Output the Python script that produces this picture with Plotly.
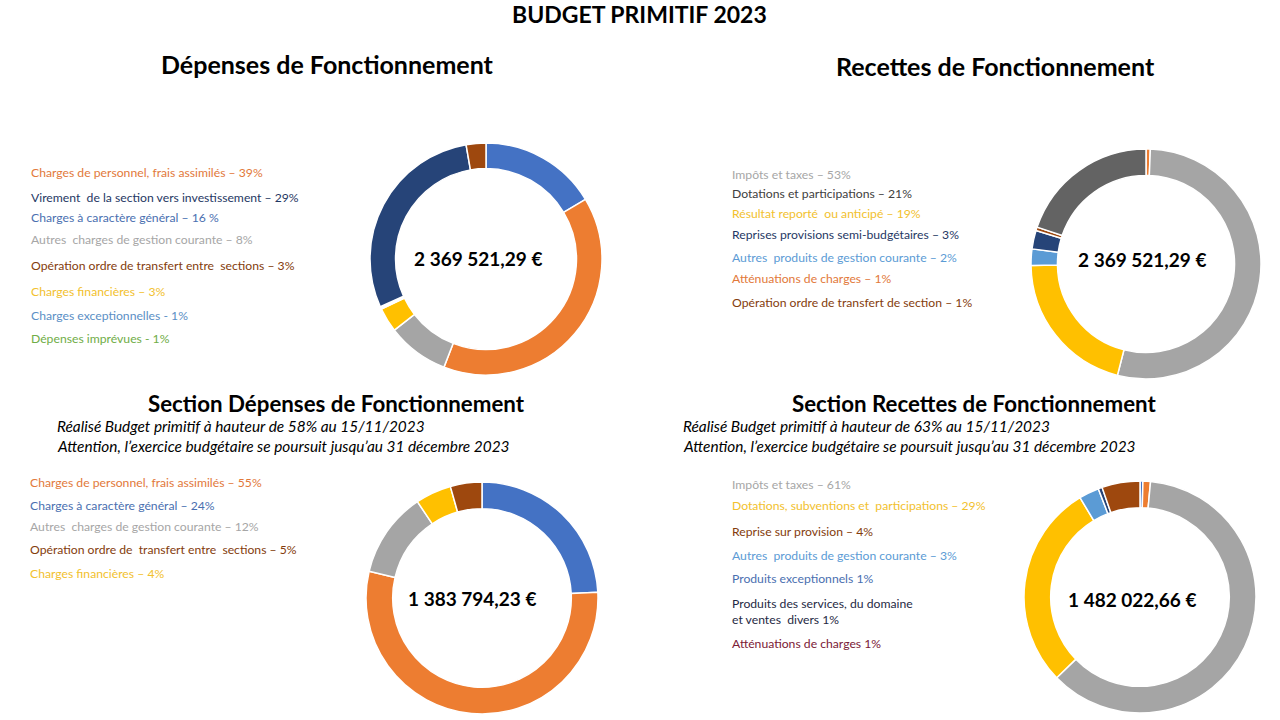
import plotly.graph_objects as go

W, H = 1280, 720
FONT = "Lato"
OFF = 0

# ---------------- DATA ----------------
# Chart 1: Dépenses de Fonctionnement (slice order, clockwise from 12 o'clock)
dep_labels = ["Charges à caractère général", "Charges de personnel, frais assimilés",
              "Autres charges de gestion courante", "Charges financières",
              "Charges exceptionnelles", "Dépenses imprévues",
              "Virement de la section vers investissement",
              "Opération ordre de transfert entre sections"]
dep_values = [16.4, 39.5, 8.6, 3.4, 0.2, 0.15, 29.0, 2.75]
dep_colors = ["#4472C4", "#ED7D31", "#A5A5A5", "#FFC000", "#5B9BD5", "#70AD47", "#264478", "#9E480E"]
dep_total = "2 369 521,29 €"
dep_legend = ["Charges de personnel, frais assimilés – 39%",
              "Virement  de la section vers investissement – 29%",
              "Charges à caractère général – 16 %",
              "Autres  charges de gestion courante – 8%",
              "Opération ordre de transfert entre  sections – 3%",
              "Charges financières – 3%",
              "Charges exceptionnelles - 1%",
              "Dépenses imprévues - 1%"]
dep_legend_colors = ["#E2793A", "#1F3864", "#4A6FB0", "#A6A6A6", "#843C0C", "#F2C12E", "#5B8FC5", "#70AD47"]

# Chart 2: Recettes de Fonctionnement
rec_labels = ["Atténuations de charges", "Impôts et taxes", "Résultat reporté ou anticipé",
              "Autres produits de gestion courante", "Reprises provisions semi-budgétaires",
              "Opération ordre de transfert de section", "Dotations et participations"]
rec_values = [0.6, 53.4, 20.8, 2.3, 2.6, 0.5, 19.8]
rec_colors = ["#ED7D31", "#A5A5A5", "#FFC000", "#5B9BD5", "#264478", "#9E480E", "#636363"]
rec_total = "2 369 521,29 €"
rec_legend = ["Impôts et taxes – 53%",
              "Dotations et participations – 21%",
              "Résultat reporté  ou anticipé – 19%",
              "Reprises provisions semi-budgétaires – 3%",
              "Autres  produits de gestion courante – 2%",
              "Atténuations de charges – 1%",
              "Opération ordre de transfert de section – 1%"]
rec_legend_colors = ["#A6A6A6", "#404040", "#F2C12E", "#1F3864", "#5B9BD5", "#E2793A", "#843C0C"]

# Chart 3: Section Dépenses de Fonctionnement (réalisé)
sdep_labels = ["Charges à caractère général", "Charges de personnel, frais assimilés",
               "Autres charges de gestion courante", "Charges financières",
               "Opération ordre de transfert entre sections"]
sdep_values = [24.2, 54.5, 11.9, 5.0, 4.4]
sdep_colors = ["#4472C4", "#ED7D31", "#A5A5A5", "#FFC000", "#9E480E"]
sdep_total = "1 383 794,23 €"
sdep_note = ["Réalisé Budget primitif à hauteur de 58% au 15/11/2023",
             "Attention, l’exercice budgétaire se poursuit jusqu’au 31 décembre 2023"]
sdep_legend = ["Charges de personnel, frais assimilés – 55%",
               "Charges à caractère général – 24%",
               "Autres  charges de gestion courante – 12%",
               "Opération ordre de  transfert entre  sections – 5%",
               "Charges financières – 4%"]
sdep_legend_colors = ["#E2793A", "#4A6FB0", "#A6A6A6", "#843C0C", "#F2C12E"]

# Chart 4: Section Recettes de Fonctionnement (réalisé)
srec_labels = ["Produits exceptionnels", "Atténuations de charges", "Impôts et taxes",
               "Dotations, subventions et participations", "Autres produits de gestion courante",
               "Produits des services, du domaine et ventes divers", "Reprise sur provision"]
srec_values = [0.4, 1.05, 61.3, 28.6, 2.8, 0.55, 5.3]
srec_colors = ["#4472C4", "#ED7D31", "#A5A5A5", "#FFC000", "#5B9BD5", "#264478", "#9E480E"]
srec_total = "1 482 022,66 €"
srec_note = ["Réalisé Budget primitif à hauteur de 63% au 15/11/2023",
             "Attention, l’exercice budgétaire se poursuit jusqu’au 31 décembre 2023"]
srec_legend = ["Impôts et taxes – 61%",
               "Dotations, subventions et  participations – 29%",
               "Reprise sur provision – 4%",
               "Autres  produits de gestion courante – 3%",
               "Produits exceptionnels 1%",
               "Produits des services, du domaine<br>et ventes  divers 1%",
               "Atténuations de charges 1%"]
srec_legend_colors = ["#A6A6A6", "#F2C12E", "#843C0C", "#5B9BD5", "#4A6FB0", "#1F2A44", "#7B2036"]

main_title = "BUDGET PRIMITIF 2023"
titles = ["Dépenses de Fonctionnement", "Recettes de Fonctionnement",
          "Section Dépenses de Fonctionnement", "Section Recettes de Fonctionnement"]

# ---------------- LAYOUT HELPERS ----------------
def px_x(x):
    return (x - OFF) / W

def px_y(y):
    return 1 - (y - OFF) / H

fig = go.Figure()

def add_donut(labels, values, colors, cx, cy, r, hole):
    fig.add_trace(go.Pie(
        labels=labels, values=values, sort=False, direction="clockwise", rotation=0,
        hole=hole, textinfo="none", hoverinfo="label+percent",
        marker=dict(colors=colors, line=dict(color="white", width=1.5)),
        domain=dict(x=[px_x(cx - r), px_x(cx + r)], y=[px_y(cy + r), px_y(cy - r)]),
        showlegend=False,
    ))

add_donut(dep_labels, dep_values, dep_colors, 486, 259, 116, 0.78)
add_donut(rec_labels, rec_values, rec_colors, 1146, 264, 115, 0.77)
add_donut(sdep_labels, sdep_values, sdep_colors, 482, 598, 116, 0.77)
add_donut(srec_labels, srec_values, srec_colors, 1140, 597, 116, 0.77)

ann = []

def text(x, y, s, size, color="black", bold=False, italic=False, xanchor="left"):
    if bold:
        s = "<b>" + s + "</b>"
    if italic:
        s = "<i>" + s + "</i>"
    ann.append(dict(x=px_x(x), y=px_y(y), xref="paper", yref="paper", text=s,
                    showarrow=False, xanchor=xanchor, yanchor="middle", align="left",
                    font=dict(family=FONT, size=size, color=color)))

LEG = 12.2

# titles
text(639, 14, main_title, 23, bold=True, xanchor="center")
text(327, 64, titles[0], 25, bold=True, xanchor="center")
text(995, 66, titles[1], 25, bold=True, xanchor="center")
text(336, 403, titles[2], 22.3, bold=True, xanchor="center")
text(974, 403, titles[3], 22.3, bold=True, xanchor="center")

# notes
for i, s in enumerate(sdep_note):
    text(55, 426 + 20 * i, s, 15.4, italic=True)
for i, s in enumerate(srec_note):
    text(681, 426 + 20 * i, s, 15.4, italic=True)

# centre totals
TOT = 19
text(478, 258, dep_total, TOT, bold=True, xanchor="center")
text(1142, 259, rec_total, TOT, bold=True, xanchor="center")
text(472, 598, sdep_total, TOT, bold=True, xanchor="center")
text(1132, 599, srec_total, TOT, bold=True, xanchor="center")

# text legends
dep_y = [172, 197, 217, 240, 265, 291, 315, 338]
for s, c, y in zip(dep_legend, dep_legend_colors, dep_y):
    text(29, y, s, LEG, color=c)
rec_y = [174, 194, 213, 235, 257, 279, 302]
for s, c, y in zip(rec_legend, rec_legend_colors, rec_y):
    text(730, y, s, LEG, color=c)
sdep_y = [483, 506, 526, 549, 573]
for s, c, y in zip(sdep_legend, sdep_legend_colors, sdep_y):
    text(28, y, s, LEG, color=c)
srec_y = [484, 506, 531, 555, 578, 611, 643]
for s, c, y in zip(srec_legend, srec_legend_colors, srec_y):
    text(730, y, s, LEG, color=c)

fig.update_layout(
    width=W, height=H, margin=dict(l=0, r=0, t=0, b=0),
    paper_bgcolor="white", plot_bgcolor="white",
    annotations=ann, font=dict(family=FONT),
)

fig.write_html("out.html", config={"displayModeBar": False},
               post_script="document.body.style.margin='0';")
